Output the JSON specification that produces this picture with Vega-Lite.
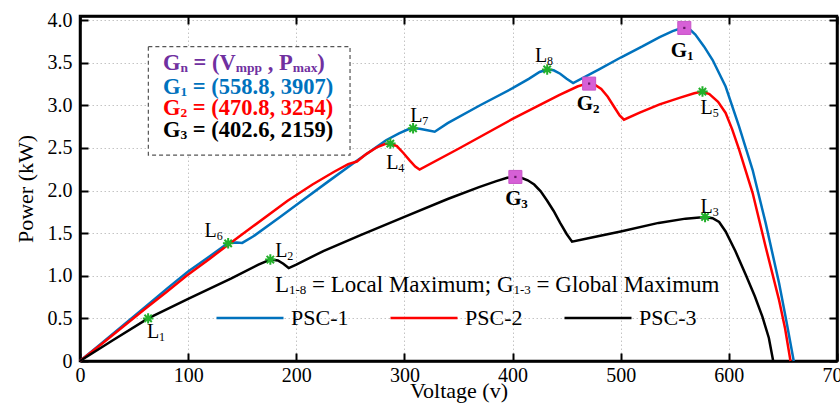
{
  "$schema": "https://vega.github.io/schema/vega-lite/v6.json",
  "width": 757,
  "height": 345,
  "autosize": {"type": "none"},
  "padding": {"left": 80, "top": 16, "right": 3, "bottom": 45},
  "background": "white",
  "config": {
    "view": {"stroke": "black", "strokeWidth": 2.5},
    "font": "Liberation Serif",
    "text": {"font": "Liberation Serif"},
    "axis": {
      "domainColor": "black", "domainWidth": 2.5,
      "tickColor": "black", "tickWidth": 2, "tickSize": -8,
      "labelFont": "Liberation Serif", "labelFontSize": 20, "labelColor": "black", "labelFlush": false,
      "titleFont": "Liberation Serif", "titleFontSize": 22, "titleFontWeight": "normal", "titleColor": "black",
      "gridColor": "#c4c4c4", "gridDash": [1.5, 2.5], "gridWidth": 1
    }
  },
  "datasets": {
    "curves": [
      {"series": "PSC-1", "voltage": 0, "power": 0}, {"series": "PSC-1", "voltage": 20, "power": 0.21}, {"series": "PSC-1", "voltage": 40, "power": 0.42}, {"series": "PSC-1", "voltage": 60, "power": 0.63}, {"series": "PSC-1", "voltage": 81, "power": 0.855}, {"series": "PSC-1", "voltage": 100, "power": 1.05}, {"series": "PSC-1", "voltage": 120, "power": 1.23}, {"series": "PSC-1", "voltage": 137, "power": 1.385}, {"series": "PSC-1", "voltage": 145, "power": 1.39}, {"series": "PSC-1", "voltage": 150, "power": 1.385}, {"series": "PSC-1", "voltage": 160, "power": 1.46}, {"series": "PSC-1", "voltage": 185, "power": 1.69}, {"series": "PSC-1", "voltage": 200, "power": 1.83}, {"series": "PSC-1", "voltage": 230, "power": 2.11}, {"series": "PSC-1", "voltage": 255, "power": 2.34}, {"series": "PSC-1", "voltage": 283, "power": 2.59}, {"series": "PSC-1", "voltage": 295, "power": 2.67}, {"series": "PSC-1", "voltage": 303, "power": 2.715}, {"series": "PSC-1", "voltage": 308, "power": 2.73}, {"series": "PSC-1", "voltage": 314, "power": 2.725}, {"series": "PSC-1", "voltage": 320, "power": 2.71}, {"series": "PSC-1", "voltage": 328, "power": 2.69}, {"series": "PSC-1", "voltage": 340, "power": 2.79}, {"series": "PSC-1", "voltage": 370, "power": 3.0}, {"series": "PSC-1", "voltage": 400, "power": 3.2}, {"series": "PSC-1", "voltage": 415, "power": 3.31}, {"series": "PSC-1", "voltage": 425, "power": 3.39}, {"series": "PSC-1", "voltage": 432, "power": 3.42}, {"series": "PSC-1", "voltage": 438, "power": 3.41}, {"series": "PSC-1", "voltage": 444, "power": 3.37}, {"series": "PSC-1", "voltage": 450, "power": 3.31}, {"series": "PSC-1", "voltage": 456, "power": 3.26}, {"series": "PSC-1", "voltage": 480, "power": 3.42}, {"series": "PSC-1", "voltage": 500, "power": 3.56}, {"series": "PSC-1", "voltage": 520, "power": 3.69}, {"series": "PSC-1", "voltage": 536, "power": 3.8}, {"series": "PSC-1", "voltage": 548, "power": 3.87}, {"series": "PSC-1", "voltage": 555, "power": 3.9}, {"series": "PSC-1", "voltage": 558.8, "power": 3.907}, {"series": "PSC-1", "voltage": 563, "power": 3.9}, {"series": "PSC-1", "voltage": 569, "power": 3.83}, {"series": "PSC-1", "voltage": 577, "power": 3.69}, {"series": "PSC-1", "voltage": 585, "power": 3.53}, {"series": "PSC-1", "voltage": 597, "power": 3.22}, {"series": "PSC-1", "voltage": 609.5, "power": 2.75}, {"series": "PSC-1", "voltage": 622, "power": 2.24}, {"series": "PSC-1", "voltage": 634, "power": 1.62}, {"series": "PSC-1", "voltage": 646.5, "power": 0.91}, {"series": "PSC-1", "voltage": 653, "power": 0.48}, {"series": "PSC-1", "voltage": 660, "power": 0},
      {"series": "PSC-2", "voltage": 0, "power": 0}, {"series": "PSC-2", "voltage": 20, "power": 0.2}, {"series": "PSC-2", "voltage": 40, "power": 0.405}, {"series": "PSC-2", "voltage": 60, "power": 0.61}, {"series": "PSC-2", "voltage": 80, "power": 0.81}, {"series": "PSC-2", "voltage": 98.5, "power": 1.0}, {"series": "PSC-2", "voltage": 120, "power": 1.2}, {"series": "PSC-2", "voltage": 137, "power": 1.365}, {"series": "PSC-2", "voltage": 160, "power": 1.58}, {"series": "PSC-2", "voltage": 192, "power": 1.88}, {"series": "PSC-2", "voltage": 215, "power": 2.07}, {"series": "PSC-2", "voltage": 235, "power": 2.22}, {"series": "PSC-2", "voltage": 248, "power": 2.31}, {"series": "PSC-2", "voltage": 256, "power": 2.34}, {"series": "PSC-2", "voltage": 265, "power": 2.43}, {"series": "PSC-2", "voltage": 275, "power": 2.51}, {"series": "PSC-2", "voltage": 282, "power": 2.545}, {"series": "PSC-2", "voltage": 287, "power": 2.55}, {"series": "PSC-2", "voltage": 293, "power": 2.52}, {"series": "PSC-2", "voltage": 299, "power": 2.44}, {"series": "PSC-2", "voltage": 305, "power": 2.35}, {"series": "PSC-2", "voltage": 310, "power": 2.28}, {"series": "PSC-2", "voltage": 314, "power": 2.245}, {"series": "PSC-2", "voltage": 350, "power": 2.49}, {"series": "PSC-2", "voltage": 400, "power": 2.84}, {"series": "PSC-2", "voltage": 443, "power": 3.12}, {"series": "PSC-2", "voltage": 460, "power": 3.22}, {"series": "PSC-2", "voltage": 466, "power": 3.245}, {"series": "PSC-2", "voltage": 470.8, "power": 3.254}, {"series": "PSC-2", "voltage": 476, "power": 3.24}, {"series": "PSC-2", "voltage": 482, "power": 3.19}, {"series": "PSC-2", "voltage": 488, "power": 3.1}, {"series": "PSC-2", "voltage": 494, "power": 2.98}, {"series": "PSC-2", "voltage": 499, "power": 2.88}, {"series": "PSC-2", "voltage": 503, "power": 2.83}, {"series": "PSC-2", "voltage": 517, "power": 2.91}, {"series": "PSC-2", "voltage": 536, "power": 3.01}, {"series": "PSC-2", "voltage": 555, "power": 3.09}, {"series": "PSC-2", "voltage": 568, "power": 3.14}, {"series": "PSC-2", "voltage": 575.6, "power": 3.16}, {"series": "PSC-2", "voltage": 582, "power": 3.13}, {"series": "PSC-2", "voltage": 590, "power": 3.04}, {"series": "PSC-2", "voltage": 597, "power": 2.91}, {"series": "PSC-2", "voltage": 603, "power": 2.72}, {"series": "PSC-2", "voltage": 609.5, "power": 2.48}, {"series": "PSC-2", "voltage": 622, "power": 1.97}, {"series": "PSC-2", "voltage": 634, "power": 1.34}, {"series": "PSC-2", "voltage": 646.5, "power": 0.71}, {"series": "PSC-2", "voltage": 652, "power": 0.38}, {"series": "PSC-2", "voltage": 657, "power": 0},
      {"series": "PSC-3", "voltage": 0, "power": 0}, {"series": "PSC-3", "voltage": 30, "power": 0.24}, {"series": "PSC-3", "voltage": 63, "power": 0.5}, {"series": "PSC-3", "voltage": 100, "power": 0.73}, {"series": "PSC-3", "voltage": 140, "power": 0.97}, {"series": "PSC-3", "voltage": 165, "power": 1.13}, {"series": "PSC-3", "voltage": 176, "power": 1.19}, {"series": "PSC-3", "voltage": 183, "power": 1.18}, {"series": "PSC-3", "voltage": 188, "power": 1.14}, {"series": "PSC-3", "voltage": 193, "power": 1.09}, {"series": "PSC-3", "voltage": 200, "power": 1.13}, {"series": "PSC-3", "voltage": 225, "power": 1.29}, {"series": "PSC-3", "voltage": 260, "power": 1.48}, {"series": "PSC-3", "voltage": 300, "power": 1.69}, {"series": "PSC-3", "voltage": 340, "power": 1.9}, {"series": "PSC-3", "voltage": 369, "power": 2.04}, {"series": "PSC-3", "voltage": 385, "power": 2.11}, {"series": "PSC-3", "voltage": 395, "power": 2.15}, {"series": "PSC-3", "voltage": 402.6, "power": 2.159}, {"series": "PSC-3", "voltage": 408, "power": 2.15}, {"series": "PSC-3", "voltage": 414, "power": 2.12}, {"series": "PSC-3", "voltage": 420, "power": 2.07}, {"series": "PSC-3", "voltage": 426, "power": 1.99}, {"series": "PSC-3", "voltage": 432, "power": 1.88}, {"series": "PSC-3", "voltage": 438, "power": 1.76}, {"series": "PSC-3", "voltage": 444, "power": 1.62}, {"series": "PSC-3", "voltage": 450, "power": 1.49}, {"series": "PSC-3", "voltage": 455, "power": 1.4}, {"series": "PSC-3", "voltage": 470, "power": 1.44}, {"series": "PSC-3", "voltage": 500, "power": 1.52}, {"series": "PSC-3", "voltage": 535, "power": 1.62}, {"series": "PSC-3", "voltage": 560, "power": 1.67}, {"series": "PSC-3", "voltage": 578, "power": 1.69}, {"series": "PSC-3", "voltage": 585, "power": 1.675}, {"series": "PSC-3", "voltage": 591, "power": 1.63}, {"series": "PSC-3", "voltage": 597, "power": 1.52}, {"series": "PSC-3", "voltage": 606, "power": 1.29}, {"series": "PSC-3", "voltage": 616, "power": 1.0}, {"series": "PSC-3", "voltage": 624, "power": 0.76}, {"series": "PSC-3", "voltage": 631, "power": 0.52}, {"series": "PSC-3", "voltage": 637, "power": 0.27}, {"series": "PSC-3", "voltage": 641, "power": 0}
    ],
    "locals": [
      {"name": "L1", "voltage": 63, "power": 0.5}, {"name": "L2", "voltage": 176, "power": 1.19}, {"name": "L3", "voltage": 578, "power": 1.69}, {"name": "L4", "voltage": 287, "power": 2.55}, {"name": "L5", "voltage": 575.6, "power": 3.16}, {"name": "L6", "voltage": 137, "power": 1.38}, {"name": "L7", "voltage": 308, "power": 2.73}, {"name": "L8", "voltage": 432, "power": 3.42}
    ],
    "globals": [
      {"name": "G1", "voltage": 558.8, "power": 3.907}, {"name": "G2", "voltage": 470.8, "power": 3.254}, {"name": "G3", "voltage": 402.6, "power": 2.159}
    ],
    "labels": [
      {"kind": "L", "main": "L", "sub": "1", "voltage": 67.5, "power": 0.344},
      {"kind": "L", "main": "L", "sub": "2", "voltage": 186.2, "power": 1.294},
      {"kind": "L", "main": "L", "sub": "3", "voltage": 579.5, "power": 1.81},
      {"kind": "L", "main": "L", "sub": "4", "voltage": 288.8, "power": 2.319},
      {"kind": "L", "main": "L", "sub": "5", "voltage": 579.5, "power": 2.971},
      {"kind": "L", "main": "L", "sub": "6", "voltage": 120.8, "power": 1.528},
      {"kind": "L", "main": "L", "sub": "7", "voltage": 311, "power": 2.87},
      {"kind": "L", "main": "L", "sub": "8", "voltage": 426.3, "power": 3.578},
      {"kind": "G", "main": "G", "sub": "1", "voltage": 553.9, "power": 3.636},
      {"kind": "G", "main": "G", "sub": "2", "voltage": 467, "power": 3.011},
      {"kind": "G", "main": "G", "sub": "3", "voltage": 400.7, "power": 1.9}
    ],
    "box": [{"voltage": 63.2, "voltage2": 249.7, "power": 2.416, "power2": 3.687}],
    "boxhead": [{"voltage": 76.7, "power": 3.5, "g": "G", "n": "n", "a": "= (V", "mpp": "mpp", "b": ", P", "max": "max", "c": ")"}],
    "boxlines": [
      {"key": "G1", "voltage": 76.7, "power": 3.218, "g": "G", "sub": "1", "rest": "= (558.8, 3907)"},
      {"key": "G2", "voltage": 76.7, "power": 2.964, "g": "G", "sub": "2", "rest": "= (470.8, 3254)"},
      {"key": "G3", "voltage": 76.7, "power": 2.71, "g": "G", "sub": "3", "rest": "= (402.6, 2159)"}
    ],
    "note": [{"voltage": 180.3, "power": 0.891, "p1": "L", "s1": "1-8", "p2": "= Local Maximum; G", "s2": "1-3", "p3": "= Global Maximum"}]
  },
  "resolve": {"axis": {"x": "independent", "y": "independent"}},
  "layer": [
    {
      "layer": [
        {
          "data": {"name": "curves"},
          "mark": {"type": "line", "strokeWidth": 2.5},
          "encoding": {
            "x": {"field": "voltage", "type": "quantitative", "title": "Voltage (v)",
                  "scale": {"domain": [0, 700], "nice": false, "zero": false},
                  "axis": {"values": [0, 100, 200, 300, 400, 500, 600, 700], "grid": true, "labelPadding": 12, "titleY": 36, "titleBaseline": "alphabetic"}},
            "y": {"field": "power", "type": "quantitative", "title": "Power (kW)",
                  "scale": {"domain": [0, 4.047], "nice": false, "zero": false},
                  "axis": {"values": [0, 0.5, 1, 1.5, 2, 2.5, 3, 3.5, 4], "grid": true, "labelPadding": 16,
                           "labelExpr": "datum.value == 0 ? '0' : format(datum.value, '.1f')", "titleX": -55, "titleBaseline": "middle"}},
            "color": {"field": "series", "type": "nominal",
                      "scale": {"domain": ["PSC-1", "PSC-2", "PSC-3"], "range": ["#0072BD", "#FF0000", "#000000"]},
                      "legend": {"orient": "none", "legendX": 135, "legendY": 267, "direction": "horizontal", "title": null,
                                 "symbolType": "stroke", "symbolSize": 4489, "symbolStrokeWidth": 2.5,
                                 "labelFont": "Liberation Serif", "labelFontSize": 22, "labelColor": "black", "labelOffset": 6, "columnPadding": 36}}
          }
        },
        {
          "data": {"name": "box"},
          "mark": {"type": "rect", "fill": "white", "stroke": "#555555", "strokeWidth": 1.2, "strokeDash": [4, 3]},
          "encoding": {
            "x": {"field": "voltage", "type": "quantitative", "title": "Voltage (v)"},
            "x2": {"field": "voltage2"},
            "y": {"field": "power", "type": "quantitative", "title": "Power (kW)"},
            "y2": {"field": "power2"}
          }
        },
        {
          "data": {"name": "boxhead"},
          "mark": {"type": "text", "align": "left", "baseline": "middle", "fontSize": 22.5, "fontWeight": "bold", "color": "#7030A0"},
          "encoding": {"x": {"field": "voltage", "type": "quantitative", "title": "Voltage (v)"}, "y": {"field": "power", "type": "quantitative", "title": "Power (kW)"}, "text": {"field": "g"}}
        },
        {
          "data": {"name": "boxhead"},
          "mark": {"type": "text", "align": "left", "baseline": "middle", "fontSize": 13.5, "fontWeight": "bold", "color": "#7030A0", "dx": 17.5, "dy": 5},
          "encoding": {"x": {"field": "voltage", "type": "quantitative", "title": "Voltage (v)"}, "y": {"field": "power", "type": "quantitative", "title": "Power (kW)"}, "text": {"field": "n"}}
        },
        {
          "data": {"name": "boxhead"},
          "mark": {"type": "text", "align": "left", "baseline": "middle", "fontSize": 22.5, "fontWeight": "bold", "color": "#7030A0", "dx": 30.6},
          "encoding": {"x": {"field": "voltage", "type": "quantitative", "title": "Voltage (v)"}, "y": {"field": "power", "type": "quantitative", "title": "Power (kW)"}, "text": {"field": "a"}}
        },
        {
          "data": {"name": "boxhead"},
          "mark": {"type": "text", "align": "left", "baseline": "middle", "fontSize": 13.5, "fontWeight": "bold", "color": "#7030A0", "dx": 72.8, "dy": 5},
          "encoding": {"x": {"field": "voltage", "type": "quantitative", "title": "Voltage (v)"}, "y": {"field": "power", "type": "quantitative", "title": "Power (kW)"}, "text": {"field": "mpp"}}
        },
        {
          "data": {"name": "boxhead"},
          "mark": {"type": "text", "align": "left", "baseline": "middle", "fontSize": 22.5, "fontWeight": "bold", "color": "#7030A0", "dx": 104.7},
          "encoding": {"x": {"field": "voltage", "type": "quantitative", "title": "Voltage (v)"}, "y": {"field": "power", "type": "quantitative", "title": "Power (kW)"}, "text": {"field": "b"}}
        },
        {
          "data": {"name": "boxhead"},
          "mark": {"type": "text", "align": "left", "baseline": "middle", "fontSize": 13.5, "fontWeight": "bold", "color": "#7030A0", "dx": 129.7, "dy": 5},
          "encoding": {"x": {"field": "voltage", "type": "quantitative", "title": "Voltage (v)"}, "y": {"field": "power", "type": "quantitative", "title": "Power (kW)"}, "text": {"field": "max"}}
        },
        {
          "data": {"name": "boxhead"},
          "mark": {"type": "text", "align": "left", "baseline": "middle", "fontSize": 22.5, "fontWeight": "bold", "color": "#7030A0", "dx": 154.4},
          "encoding": {"x": {"field": "voltage", "type": "quantitative", "title": "Voltage (v)"}, "y": {"field": "power", "type": "quantitative", "title": "Power (kW)"}, "text": {"field": "c"}}
        },
        {
          "data": {"name": "boxlines"},
          "mark": {"type": "text", "align": "left", "baseline": "middle", "fontSize": 22.5, "fontWeight": "bold"},
          "encoding": {"x": {"field": "voltage", "type": "quantitative", "title": "Voltage (v)"}, "y": {"field": "power", "type": "quantitative", "title": "Power (kW)"}, "text": {"field": "g"},
                       "color": {"condition": [{"test": "datum.key == 'G1'", "value": "#0072BD"}, {"test": "datum.key == 'G2'", "value": "#FF0000"}], "value": "#000000"}}
        },
        {
          "data": {"name": "boxlines"},
          "mark": {"type": "text", "align": "left", "baseline": "middle", "fontSize": 13.5, "fontWeight": "bold", "dx": 17.5, "dy": 5},
          "encoding": {"x": {"field": "voltage", "type": "quantitative", "title": "Voltage (v)"}, "y": {"field": "power", "type": "quantitative", "title": "Power (kW)"}, "text": {"field": "sub"},
                       "color": {"condition": [{"test": "datum.key == 'G1'", "value": "#0072BD"}, {"test": "datum.key == 'G2'", "value": "#FF0000"}], "value": "#000000"}}
        },
        {
          "data": {"name": "boxlines"},
          "mark": {"type": "text", "align": "left", "baseline": "middle", "fontSize": 22.5, "fontWeight": "bold", "dx": 29.9},
          "encoding": {"x": {"field": "voltage", "type": "quantitative", "title": "Voltage (v)"}, "y": {"field": "power", "type": "quantitative", "title": "Power (kW)"}, "text": {"field": "rest"},
                       "color": {"condition": [{"test": "datum.key == 'G1'", "value": "#0072BD"}, {"test": "datum.key == 'G2'", "value": "#FF0000"}], "value": "#000000"}}
        },
        {
          "data": {"name": "note"},
          "mark": {"type": "text", "align": "left", "baseline": "middle", "fontSize": 23, "color": "black"},
          "encoding": {"x": {"field": "voltage", "type": "quantitative", "title": "Voltage (v)"}, "y": {"field": "power", "type": "quantitative", "title": "Power (kW)"}, "text": {"field": "p1"}}
        },
        {
          "data": {"name": "note"},
          "mark": {"type": "text", "align": "left", "baseline": "middle", "fontSize": 13, "color": "black", "dx": 14.05, "dy": 5},
          "encoding": {"x": {"field": "voltage", "type": "quantitative", "title": "Voltage (v)"}, "y": {"field": "power", "type": "quantitative", "title": "Power (kW)"}, "text": {"field": "s1"}}
        },
        {
          "data": {"name": "note"},
          "mark": {"type": "text", "align": "left", "baseline": "middle", "fontSize": 23, "color": "black", "dx": 37.1},
          "encoding": {"x": {"field": "voltage", "type": "quantitative", "title": "Voltage (v)"}, "y": {"field": "power", "type": "quantitative", "title": "Power (kW)"}, "text": {"field": "p2"}}
        },
        {
          "data": {"name": "note"},
          "mark": {"type": "text", "align": "left", "baseline": "middle", "fontSize": 13, "color": "black", "dx": 238.5, "dy": 5},
          "encoding": {"x": {"field": "voltage", "type": "quantitative", "title": "Voltage (v)"}, "y": {"field": "power", "type": "quantitative", "title": "Power (kW)"}, "text": {"field": "s2"}}
        },
        {
          "data": {"name": "note"},
          "mark": {"type": "text", "align": "left", "baseline": "middle", "fontSize": 23, "color": "black", "dx": 261.6},
          "encoding": {"x": {"field": "voltage", "type": "quantitative", "title": "Voltage (v)"}, "y": {"field": "power", "type": "quantitative", "title": "Power (kW)"}, "text": {"field": "p3"}}
        },
        {
          "data": {"name": "locals"},
          "mark": {"type": "point", "shape": "M-1,0H1M0,-1V1M-0.7,-0.7L0.7,0.7M-0.7,0.7L0.7,-0.7", "filled": false, "stroke": "#22B02A", "strokeWidth": 2, "size": 110, "opacity": 1},
          "encoding": {"x": {"field": "voltage", "type": "quantitative", "title": "Voltage (v)"}, "y": {"field": "power", "type": "quantitative", "title": "Power (kW)"}}
        },
        {
          "data": {"name": "globals"},
          "mark": {"type": "point", "shape": "square", "filled": true, "fill": "#D660D6", "stroke": "#C855C8", "strokeWidth": 1, "size": 170, "opacity": 1},
          "encoding": {"x": {"field": "voltage", "type": "quantitative", "title": "Voltage (v)"}, "y": {"field": "power", "type": "quantitative", "title": "Power (kW)"}}
        },
        {
          "data": {"name": "globals"},
          "mark": {"type": "point", "shape": "square", "filled": true, "fill": "#6a1a6a", "size": 5, "opacity": 1},
          "encoding": {"x": {"field": "voltage", "type": "quantitative", "title": "Voltage (v)"}, "y": {"field": "power", "type": "quantitative", "title": "Power (kW)"}}
        },
        {
          "data": {"name": "labels"},
          "transform": [{"filter": "datum.kind == 'L'"}],
          "mark": {"type": "text", "align": "center", "baseline": "middle", "fontSize": 20, "color": "black"},
          "encoding": {"x": {"field": "voltage", "type": "quantitative", "title": "Voltage (v)"}, "y": {"field": "power", "type": "quantitative", "title": "Power (kW)"}, "text": {"field": "main"}}
        },
        {
          "data": {"name": "labels"},
          "transform": [{"filter": "datum.kind == 'L'"}],
          "mark": {"type": "text", "align": "left", "baseline": "middle", "fontSize": 12, "color": "black", "dx": 6, "dy": 5},
          "encoding": {"x": {"field": "voltage", "type": "quantitative", "title": "Voltage (v)"}, "y": {"field": "power", "type": "quantitative", "title": "Power (kW)"}, "text": {"field": "sub"}}
        },
        {
          "data": {"name": "labels"},
          "transform": [{"filter": "datum.kind == 'G'"}],
          "mark": {"type": "text", "align": "center", "baseline": "middle", "fontSize": 21, "fontWeight": "bold", "color": "black"},
          "encoding": {"x": {"field": "voltage", "type": "quantitative", "title": "Voltage (v)"}, "y": {"field": "power", "type": "quantitative", "title": "Power (kW)"}, "text": {"field": "main"}}
        },
        {
          "data": {"name": "labels"},
          "transform": [{"filter": "datum.kind == 'G'"}],
          "mark": {"type": "text", "align": "left", "baseline": "middle", "fontSize": 13, "fontWeight": "bold", "color": "black", "dx": 8, "dy": 5},
          "encoding": {"x": {"field": "voltage", "type": "quantitative", "title": "Voltage (v)"}, "y": {"field": "power", "type": "quantitative", "title": "Power (kW)"}, "text": {"field": "sub"}}
        }
      ]
    },
    {
      "data": {"values": [{"voltage": 0, "power": 0}]},
      "mark": {"type": "point", "opacity": 0},
      "encoding": {
        "x": {"field": "voltage", "type": "quantitative", "axis": {"orient": "top", "labels": false, "grid": false, "title": null, "values": [0, 100, 200, 300, 400, 500, 600, 700]}},
        "y": {"field": "power", "type": "quantitative", "axis": {"orient": "right", "labels": false, "grid": false, "title": null, "values": [0, 0.5, 1, 1.5, 2, 2.5, 3, 3.5, 4]}}
      }
    }
  ]
}
